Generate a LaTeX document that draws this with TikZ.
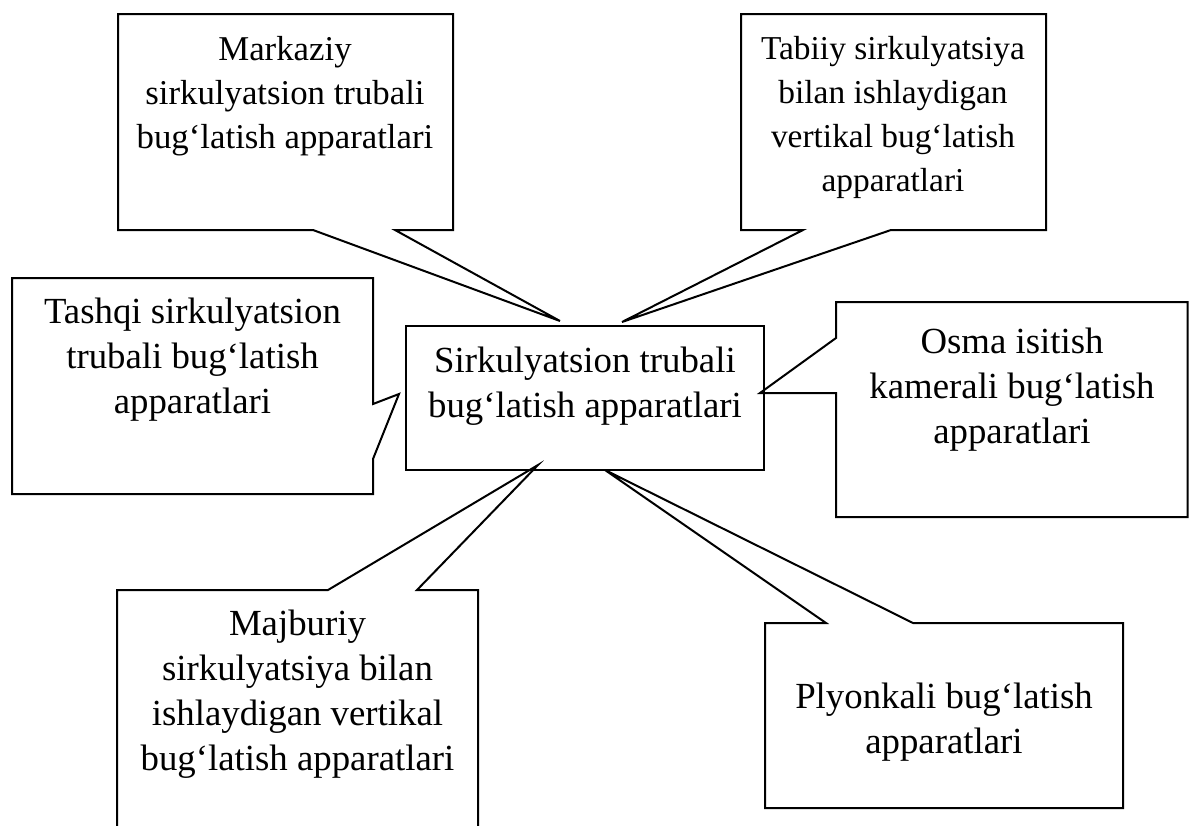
\documentclass[tikz,border=0pt]{standalone}
\usepackage{fontspec}
\setmainfont{Liberation Serif}
\usetikzlibrary{positioning}
\tikzset{
  matn/.style={align=center,inner sep=0pt,font=\fontsize{18.4}{22.5}\selectfont},
  ramka/.style={draw=black,line width=1pt,line join=miter},
}

\begin{document}
\begin{tikzpicture}[x=0.5pt,y=-0.5pt]
\clip (0,0) rectangle (1189,825);
% markaziy blok
\draw[ramka] (406,326) rectangle (764,470);
\node[matn] (markaz) at (585,386) {Sirkulyatsion trubali\\bug‘latish apparatlari};
% chaqiriq uchlari
\coordinate (uchA) at (560,321);
\coordinate (uchB) at (622,322);
\coordinate (uchC) at (399,394);
\coordinate (uchD) at (760,393);
\coordinate (uchE) at (538,465);
\coordinate (uchF) at (605,470);
% yuqori chap
\draw[ramka] (118,14) -- (453,14) -- (453,230) -- (395,230) -- (uchA) -- (313,230) -- (118,230) -- cycle;
\node[matn,font=\fontsize{17.4}{22}\selectfont] (markaziy) at (285,96) {Markaziy\\sirkulyatsion trubali\\bug‘latish apparatlari};
% yuqori o'ng
\draw[ramka] (741,14) -- (1046,14) -- (1046,230) -- (891,230) -- (uchB) -- (803,230) -- (741,230) -- cycle;
\node[matn,font=\fontsize{16.7}{22}\selectfont] (tabiiy) at (893,117) {Tabiiy sirkulyatsiya\\bilan ishlaydigan\\vertikal bug‘latish\\apparatlari};
% chap
\draw[ramka] (12,278) -- (373,278) -- (373,404) -- (uchC) -- (373,459) -- (373,494) -- (12,494) -- cycle;
\node[matn] (tashqi) at (192.5,360) {Tashqi sirkulyatsion\\trubali bug‘latish\\apparatlari};
% o'ng
\draw[ramka] (836,302) -- (1187.5,302) -- (1187.5,517) -- (836,517) -- (836,393) -- (uchD) -- (836,338) -- cycle;
\node[matn] (osma) at (1012,390) {Osma isitish\\kamerali bug‘latish\\apparatlari};
% pastki chap
\draw[ramka] (117,840) -- (117,590) -- (328,590) -- (uchE) -- (417,590) -- (478,590) -- (478,840);
\node[matn] (majburiy) at (297.5,694) {Majburiy\\sirkulyatsiya bilan\\ishlaydigan vertikal\\bug‘latish apparatlari};
% pastki o'ng
\draw[ramka] (765,623) -- (826,623) -- (uchF) -- (913,623) -- (1123,623) -- (1123,808) -- (765,808) -- cycle;
\node[matn] (plyonka) at (944,722) {Plyonkali bug‘latish\\apparatlari};
\end{tikzpicture}
\end{document}
